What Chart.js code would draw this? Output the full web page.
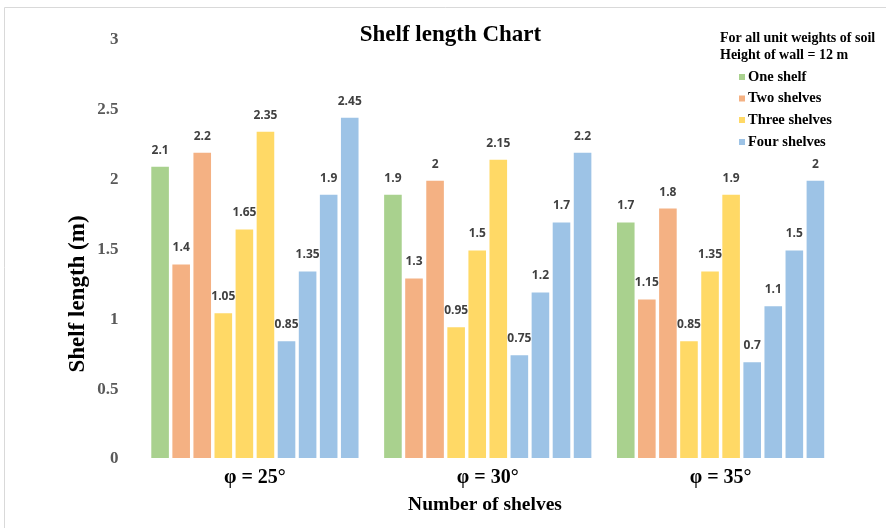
<!DOCTYPE html>
<html>
<head>
<meta charset="utf-8">
<title>Shelf length Chart</title>
<script src="https://cdn.jsdelivr.net/npm/chart.js@4/dist/chart.umd.min.js"></script>
<style>
  html, body { margin: 0; padding: 0; background: #ffffff; }
  canvas { display: block; }
</style>
</head>
<body>
<canvas id="chart" width="886" height="528" style="width:886px;height:528px"></canvas>
<script>
// Friction angle groups along the x axis
const categories = ['φ = 25°', 'φ = 30°', 'φ = 35°'];

// Shelf lengths (m), one row per friction angle, one entry per shelf
const oneShelf = [[2.1], [1.9], [1.7]];
const twoShelves = [[1.4, 2.2], [1.3, 2.0], [1.15, 1.8]];
const threeShelves = [[1.05, 1.65, 2.35], [0.95, 1.5, 2.15], [0.85, 1.35, 1.9]];
const fourShelves = [[0.85, 1.35, 1.9, 2.45], [0.75, 1.2, 1.7, 2.2], [0.7, 1.1, 1.5, 2.0]];

const seriesNames = ['One shelf', 'Two shelves', 'Three shelves', 'Four shelves'];
const seriesColors = ['#A9D18E', '#F4B183', '#FFD966', '#9DC3E6'];
const yTicks = [0, 0.5, 1, 1.5, 2, 2.5, 3];

const legendTitle = ['For all unit weights of soil', 'Height of wall = 12 m'];
const chartTitle = 'Shelf length Chart';
const yTitle = 'Shelf length (m)';
const xTitle = 'Number of shelves';

// One dataset per bar slot inside a group: 1 + 2 + 3 + 4 = 10 slots
const seriesTables = [oneShelf, twoShelves, threeShelves, fourShelves];
const datasets = [];
seriesTables.forEach((table, s) => {
  const count = table[0].length;
  for (let k = 0; k < count; k++) {
    datasets.push({
      label: seriesNames[s] + ' #' + (k + 1),
      series: s,
      data: table.map(row => row[k]),
      backgroundColor: seriesColors[s],
      borderColor: 'rgba(255,255,255,0.55)',
      borderWidth: 1,
      borderSkipped: false
    });
  }
});

const SERIF = '"Liberation Serif", "Times New Roman", serif';

// Frame, titles, legend and value labels
const decorations = {
  id: 'decorations',
  afterDatasetsDraw(chart) {
    const ctx = chart.ctx;
    ctx.save();

    // value labels above the bars
    ctx.font = 'bold 12px "Open Sans", "Liberation Sans", sans-serif';
    ctx.fillStyle = '#404040';
    ctx.textAlign = 'center';
    ctx.textBaseline = 'middle';
    chart.data.datasets.forEach((ds, i) => {
      const meta = chart.getDatasetMeta(i);
      meta.data.forEach((bar, j) => {
        ctx.fillText(String(ds.data[j]), bar.x, bar.y - 15.5);
      });
    });
    ctx.restore();
  },
  afterDraw(chart) {
    const ctx = chart.ctx;
    ctx.save();

    // outer frame
    ctx.strokeStyle = '#d9d9d9';
    ctx.lineWidth = 1;
    ctx.beginPath();
    ctx.moveTo(4.5, 528);
    ctx.lineTo(4.5, 7.5);
    ctx.lineTo(886, 7.5);
    ctx.stroke();

    // chart title
    ctx.fillStyle = '#000000';
    ctx.textAlign = 'center';
    ctx.textBaseline = 'middle';
    ctx.font = 'bold 23px ' + SERIF;
    ctx.fillText(chartTitle, 450.5, 35);

    // x axis title
    ctx.font = 'bold 19.5px ' + SERIF;
    ctx.fillText(xTitle, 485, 505);

    // y axis title
    ctx.save();
    ctx.translate(78, 294);
    ctx.rotate(-Math.PI / 2);
    ctx.font = 'bold 23px ' + SERIF;
    ctx.fillText(yTitle, 0, 0);
    ctx.restore();

    // legend
    ctx.textAlign = 'left';
    ctx.font = 'bold 14px ' + SERIF;
    ctx.fillText(legendTitle[0], 720, 38);
    ctx.fillText(legendTitle[1], 720, 55);
    const rowY = [77, 98.5, 120, 142];
    seriesNames.forEach((name, s) => {
      ctx.fillStyle = seriesColors[s];
      ctx.fillRect(739, rowY[s] - 3, 6, 6);
      ctx.fillStyle = '#000000';
      ctx.font = 'bold 14.5px ' + SERIF;
      ctx.fillText(name, 748, rowY[s]);
    });

    ctx.restore();
  }
};

new Chart(document.getElementById('chart'), {
  type: 'bar',
  data: { labels: categories, datasets },
  plugins: [decorations],
  options: {
    responsive: false,
    animation: false,
    layout: { padding: { left: 0, right: 49, top: 40, bottom: 0 } },
    datasets: { bar: { categoryPercentage: 0.905, barPercentage: 0.93 } },
    plugins: {
      legend: { display: false },
      title: { display: false },
      tooltip: { enabled: false }
    },
    scales: {
      x: {
        grid: { display: false, drawTicks: false },
        border: { display: false },
        ticks: {
          color: '#000000',
          padding: 7,
          font: { family: SERIF, size: 20, weight: 'bold' }
        },
        afterFit(scale) { scale.height = 69; }
      },
      y: {
        min: 0,
        max: 3,
        grid: { display: false, drawTicks: false },
        border: { display: false },
        afterBuildTicks(scale) { scale.ticks = yTicks.map(v => ({ value: v })); },
        ticks: {
          color: '#595959',
          padding: 20,
          font: { family: SERIF, size: 17, weight: 'bold' },
          callback: v => String(v)
        },
        afterFit(scale) { scale.width = 138.5; }
      }
    }
  }
});
</script>
</body>
</html>
